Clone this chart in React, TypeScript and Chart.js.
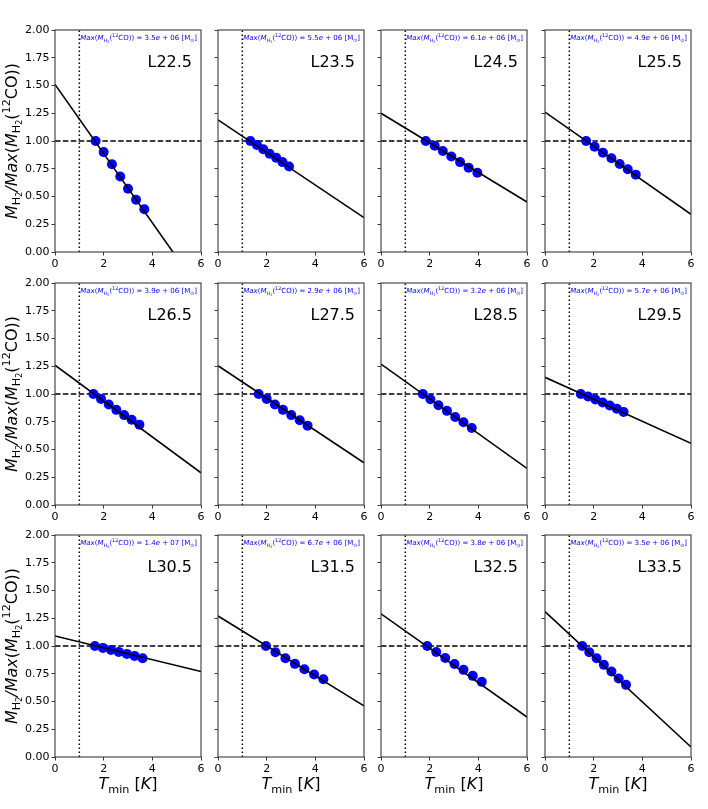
import { useEffect, useRef } from 'react';
import { Chart, registerables } from 'chart.js';

Chart.register(...registerables);
Chart.defaults.font.family = "'DejaVu Sans', sans-serif";

// panel names and the max mass quoted in each panel
const panelLabels = ['L22.5', 'L23.5', 'L24.5', 'L25.5', 'L26.5', 'L27.5', 'L28.5', 'L29.5', 'L30.5', 'L31.5', 'L32.5', 'L33.5'];
const maxMantissa = ['3.5', '5.5', '6.1', '4.9', '3.9', '2.9', '3.2', '5.7', '1.4', '6.7', '3.8', '3.5'];
const maxExponent = ['06', '06', '06', '06', '06', '06', '06', '06', '07', '06', '06', '06'];

// T_min values and mass ratios per panel
const tminL22 = [1.67, 2.0, 2.34, 2.68, 3.0, 3.33, 3.67];
const ratioL22 = [1.0, 0.9, 0.79, 0.68, 0.57, 0.47, 0.385];
const tminL23 = [1.33, 1.6, 1.86, 2.12, 2.39, 2.65, 2.92];
const ratioL23 = [1.0, 0.965, 0.925, 0.885, 0.85, 0.81, 0.77];
const tminL24 = [1.84, 2.21, 2.54, 2.89, 3.25, 3.6, 3.96];
const ratioL24 = [1.0, 0.958, 0.91, 0.86, 0.81, 0.76, 0.714];
const tminL25 = [1.69, 2.04, 2.38, 2.73, 3.07, 3.4, 3.73];
const ratioL25 = [1.0, 0.949, 0.895, 0.844, 0.793, 0.745, 0.697];
const tminL26 = [1.58, 1.89, 2.21, 2.52, 2.84, 3.15, 3.47];
const ratioL26 = [1.0, 0.956, 0.905, 0.857, 0.81, 0.768, 0.724];
const tminL27 = [1.67, 2.0, 2.34, 2.67, 3.01, 3.36, 3.68];
const ratioL27 = [1.0, 0.956, 0.905, 0.857, 0.81, 0.764, 0.715];
const tminL28 = [1.72, 2.03, 2.36, 2.71, 3.05, 3.39, 3.73];
const ratioL28 = [1.0, 0.953, 0.899, 0.848, 0.793, 0.745, 0.694];
const tminL29 = [1.47, 1.77, 2.07, 2.37, 2.66, 2.95, 3.23];
const ratioL29 = [1.0, 0.977, 0.95, 0.923, 0.896, 0.868, 0.838];
const tminL30 = [1.64, 1.97, 2.3, 2.62, 2.95, 3.27, 3.6];
const ratioL30 = [1.0, 0.983, 0.965, 0.947, 0.929, 0.911, 0.89];
const tminL31 = [1.97, 2.36, 2.77, 3.16, 3.55, 3.95, 4.33];
const ratioL31 = [1.0, 0.944, 0.89, 0.839, 0.791, 0.743, 0.7];
const tminL32 = [1.9, 2.27, 2.64, 3.02, 3.39, 3.77, 4.14];
const ratioL32 = [1.0, 0.946, 0.892, 0.838, 0.785, 0.731, 0.677];
const tminL33 = [1.53, 1.82, 2.12, 2.42, 2.73, 3.03, 3.33];
const ratioL33 = [1.0, 0.944, 0.89, 0.83, 0.77, 0.707, 0.65];

const tminSets = [tminL22, tminL23, tminL24, tminL25, tminL26, tminL27, tminL28, tminL29, tminL30, tminL31, tminL32, tminL33];
const ratioSets = [ratioL22, ratioL23, ratioL24, ratioL25, ratioL26, ratioL27, ratioL28, ratioL29, ratioL30, ratioL31, ratioL32, ratioL33];

// fitted line read at T_min = 0 and T_min = 6
const fitX = [0, 6];
const fitAtStart = [1.51, 1.19, 1.25, 1.26, 1.26, 1.255, 1.27, 1.15, 1.09, 1.27, 1.29, 1.31];
const fitAtEnd = [-0.36, 0.31, 0.45, 0.34, 0.29, 0.38, 0.33, 0.555, 0.77, 0.46, 0.36, 0.09];

// reference lines
const refRatio = 1;
const refTmin = 1;

// layout of the grid (page pixels)
const colLeft = [55, 218, 381, 545];
const rowTop = [30, 283, 535];
const plotW = 146;
const plotH = 222;
const frameColor = '#3a3a3a';

type Seg = { t: string; it?: boolean; lvl?: number };

// lvl: 0 normal, 1 subscript, 2 sub-subscript, -1 superscript
const yTitleSegs: Seg[] = [
  { t: 'M', it: true }, { t: 'H', lvl: 1 }, { t: '2', lvl: 2 },
  { t: '/Max', it: true }, { t: '(' }, { t: 'M', it: true }, { t: 'H', lvl: 1 }, { t: '2', lvl: 2 },
  { t: '(' }, { t: '12', lvl: -1 }, { t: 'CO))' },
];
const xTitleSegs: Seg[] = [
  { t: 'T', it: true }, { t: 'min', lvl: 1 }, { t: ' [' }, { t: 'K', it: true }, { t: ']' },
];

function noteSegs(mant: string, exp: string): Seg[] {
  return [
    { t: 'Max', it: true }, { t: '(' }, { t: 'M', it: true }, { t: 'H', lvl: 1 }, { t: '2', lvl: 2 },
    { t: '(' }, { t: '12', lvl: -1 }, { t: 'CO)) = ' + mant }, { t: 'e', it: true },
    { t: ' + ' + exp + ' [M' }, { t: '⊙', lvl: 1 }, { t: ']' },
  ];
}

const scaleOf = (lvl = 0) => (lvl === 0 ? 1 : lvl === 2 ? 0.5 : 0.7);
const shiftOf = (lvl = 0) => (lvl === 1 ? 0.22 : lvl === 2 ? 0.36 : lvl === -1 ? -0.4 : 0);

function drawRich(ctx: CanvasRenderingContext2D, segs: Seg[], x: number, y: number, size: number, color: string, align: 'left' | 'center' | 'right') {
  const fontFor = (s: Seg) => `${s.it ? 'italic ' : ''}${size * scaleOf(s.lvl)}px 'DejaVu Sans'`;
  const widths = segs.map(s => {
    ctx.font = fontFor(s);
    return ctx.measureText(s.t).width;
  });
  const total = widths.reduce((a, b) => a + b, 0);
  let cx = align === 'left' ? x : align === 'right' ? x - total : x - total / 2;
  ctx.fillStyle = color;
  ctx.textAlign = 'left';
  ctx.textBaseline = 'alphabetic';
  segs.forEach((s, i) => {
    ctx.font = fontFor(s);
    ctx.fillText(s.t, cx, y + shiftOf(s.lvl) * size);
    cx += widths[i];
  });
}

function Panel({ index }: { index: number }) {
  const canvasRef = useRef<HTMLCanvasElement | null>(null);
  const chartRef = useRef<Chart | null>(null);

  const row = Math.floor(index / 4);
  const col = index % 4;
  const L = col === 0 ? 55 : 12;
  const R = 9;
  const T = 10;
  const B = row === 2 ? 48 : 22;

  useEffect(() => {
    if (!canvasRef.current) return;
    if (chartRef.current) chartRef.current.destroy();

    const xs = tminSets[index];
    const ys = ratioSets[index];

    chartRef.current = new Chart(canvasRef.current, {
      type: 'scatter',
      data: {
        datasets: [
          {
            data: fitX.map((x, k) => ({ x, y: k === 0 ? fitAtStart[index] : fitAtEnd[index] })),
            showLine: true,
            borderColor: '#000',
            borderWidth: 1.6,
            pointRadius: 0,
          },
          {
            data: xs.map((x, k) => ({ x, y: ys[k] })),
            backgroundColor: '#0000ff',
            borderColor: '#0000ff',
            borderWidth: 0,
            pointRadius: 5,
          },
          {
            data: fitX.map(x => ({ x, y: refRatio })),
            showLine: true,
            borderColor: '#000',
            borderWidth: 1.5,
            borderDash: [5.5, 2.4],
            pointRadius: 0,
          },
          {
            data: [{ x: refTmin, y: 0 }, { x: refTmin, y: 2 }],
            showLine: true,
            borderColor: '#000',
            borderWidth: 1.5,
            borderDash: [1.5, 2.5],
            pointRadius: 0,
          },
        ],
      },
      options: {
        animation: false,
        responsive: true,
        maintainAspectRatio: false,
        events: [],
        layout: { padding: { left: 0, right: R, top: T, bottom: 0 } },
        plugins: { legend: { display: false }, tooltip: { enabled: false } },
        scales: {
          x: {
            type: 'linear',
            min: 0,
            max: 6,
            ticks: { stepSize: 2, padding: 2, color: '#000', font: { size: 11 }, maxRotation: 0, autoSkip: false },
            grid: { display: true, drawOnChartArea: false, drawTicks: true, tickLength: 3.5, tickColor: frameColor },
            border: { display: false },
            afterFit: (s: any) => { s.height = B; },
          },
          y: {
            type: 'linear',
            min: 0,
            max: 2,
            ticks: {
              stepSize: 0.25,
              padding: 2,
              color: '#000',
              font: { size: 11 },
              autoSkip: false,
              callback: (v: any) => (col === 0 ? Number(v).toFixed(2) : ''),
            },
            grid: { display: true, drawOnChartArea: false, drawTicks: true, tickLength: 3.5, tickColor: frameColor },
            border: { display: false },
            afterFit: (s: any) => { s.width = L; },
          },
        },
      },
      plugins: [
        {
          id: 'panelDecor',
          afterDraw(chart: Chart) {
            const { ctx, chartArea: a } = chart;
            ctx.save();
            ctx.strokeStyle = frameColor;
            ctx.lineWidth = 1.1;
            ctx.strokeRect(a.left, a.top, a.right - a.left, a.bottom - a.top);

            ctx.fillStyle = '#000';
            ctx.font = "16px 'DejaVu Sans'";
            ctx.textAlign = 'right';
            ctx.textBaseline = 'alphabetic';
            ctx.fillText(panelLabels[index], a.right - 9, a.top + 36.5);

            drawRich(ctx, noteSegs(maxMantissa[index], maxExponent[index]), a.right - 4, a.top + 10, 7, '#0000ff', 'right');

            if (col === 0) {
              ctx.save();
              ctx.translate(16.5, (a.top + a.bottom) / 2);
              ctx.rotate(-Math.PI / 2);
              drawRich(ctx, yTitleSegs, 0, 0, 16, '#000', 'center');
              ctx.restore();
            }
            if (row === 2) {
              drawRich(ctx, xTitleSegs, (a.left + a.right) / 2, a.bottom + 32, 16, '#000', 'center');
            }
            ctx.restore();
          },
        },
      ],
    } as any);

    return () => {
      if (chartRef.current) {
        chartRef.current.destroy();
        chartRef.current = null;
      }
    };
  }, [index]);

  return (
    <div
      style={{
        position: 'absolute',
        left: colLeft[col] - L,
        top: rowTop[row] - T,
        width: L + plotW + R,
        height: T + plotH + B,
      }}
    >
      <canvas ref={canvasRef} />
    </div>
  );
}

export default function App() {
  return (
    <div style={{ position: 'absolute', left: 0, top: 0, width: 708, height: 809, background: '#fff' }}>
      {panelLabels.map((_, i) => (
        <Panel key={i} index={i} />
      ))}
    </div>
  );
}
